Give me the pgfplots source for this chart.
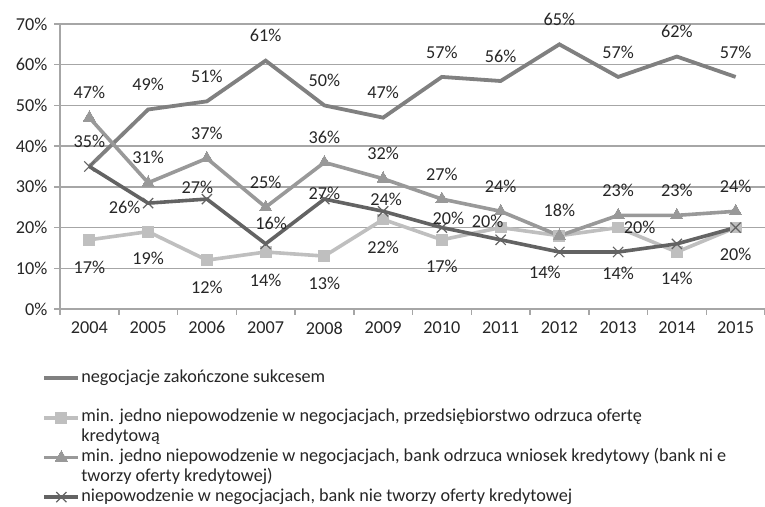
\documentclass[border=0pt]{standalone}
\usepackage{fontspec}
\setmainfont{Carlito}
\usepackage{pgfplots}
\pgfplotsset{compat=1.18}
\usepackage{pgfplotstable}
\definecolor{cS1}{HTML}{808080}
\definecolor{cS2}{HTML}{BFBFBF}
\definecolor{cS3}{HTML}{999999}
\definecolor{cS4}{HTML}{636363}
\definecolor{gridc}{HTML}{A6A6A6}
\definecolor{txt}{HTML}{262626}

\pgfplotstableread{
x y
0 35
1 49
2 51
3 61
4 50
5 47
6 57
7 56
8 65
9 57
10 62
11 57
}\sOne
\pgfplotstableread{
x y
0 17
1 19
2 12
3 14
4 13
5 22
6 17
7 20
8 18
9 20
10 14
11 20
}\sTwo
\pgfplotstableread{
x y
0 47
1 31
2 37
3 25
4 36
5 32
6 27
7 24
8 18
9 23
10 23
11 24
}\sThree
\pgfplotstableread{
x y
0 35
1 26
2 27
3 16
4 27
5 24
6 20
7 17
8 14
9 14
10 16
11 20
}\sFour
% label tables: x y dx dy (pt)
\pgfplotstableread{
x y dx dy
0 35 0 12.5
1 49 0 12.5
2 51 0 12.5
3 61 0 12.5
4 50 0 12.5
5 47 0 12.5
6 57 0 12.5
7 56 0 12.5
8 65 0 12.5
9 57 0 12.5
10 62 0 12.5
11 57 0 12.5
}\lOne
\pgfplotstableread{
x y dx dy
0 17 0 -14
1 19 0 -13.5
2 12 0 -13.5
3 14 0 -14
4 13 0 -13.5
5 22 0 -14
6 17 0 -13.5
7 20 -6.5 3.3
9 20 10.75 0
10 14 0 -13
11 20 0 -13.5
}\lTwo
\pgfplotstableread{
x y dx dy
0 47 0 12.5
1 31 0 12.5
2 37 0 12.5
3 25 0 12.5
4 36 0 12.5
5 32 0 12.5
6 27 0 12.5
7 24 0 12.5
8 18 0 12.5
9 23 0 12.5
10 23 0 12.5
11 24 0 12.5
}\lThree
\pgfplotstableread{
x y dx dy
1 26 -11.75 -2
2 27 -4.75 6
3 16 2.75 10
4 27 0 3
5 24 1.5 6
6 20 3.25 4.8
8 14 -7.25 -10
9 14 0 -10.5
}\lFour

\pgfplotsset{
  lbl/.style={draw=none, mark=none, forget plot,
    visualization depends on={\thisrow{dx}\as\dx},
    visualization depends on={\thisrow{dy}\as\dy},
    nodes near coords={\pgfmathprintnumber{\pgfplotspointmeta}\%},
    every node near coord/.style={anchor=center, text=txt, inner sep=0pt,
      xshift=\dx pt, yshift=\dy pt, font=\fontsize{9.1}{11}\selectfont}},
  s1/.style={color=cS1, line width=1.9pt, mark=none},
  s2/.style={color=cS2, line width=1.8pt, mark=square*, mark size=2.7pt, mark options={solid, fill=cS2, draw=cS2, line width=0pt}},
  s3/.style={color=cS3, line width=1.8pt, mark=triangle*, mark size=3.5pt, mark options={solid, fill=cS3, draw=cS3, line width=0pt}},
  s4/.style={color=cS4, line width=1.8pt, mark=x, mark size=3.6pt, mark options={solid, draw=cS4, line width=0.6pt}},
}

\begin{document}
\begin{tikzpicture}[font=\fontsize{9.1}{11}\selectfont]
\begin{axis}[
  scale only axis, width=352.5pt, height=142.5pt,
  xmin=-0.5, xmax=11.5, ymin=0, ymax=70,
  axis x line*=bottom, axis y line*=left,
  axis line style={draw=gridc, line width=0.75pt, -},
  xtick={0,...,11},
  xticklabels={2004,2005,2006,2007,2008,2009,2010,2011,2012,2013,2014,2015},
  major x tick style={draw=none},
  minor xtick={-0.5,0.5,...,11.5},
  ytick={0,10,...,70},
  yticklabel={\pgfmathprintnumber{\tick}\%},
  ymajorgrids, grid style={draw=gridc, line width=0.75pt},
  tick align=outside, major tick length=2.8pt, minor tick length=2.8pt,
  tick style={draw=gridc, line width=0.75pt},
  tick label style={text=txt},
  /pgf/number format/assume math mode=true,
  clip=false,
  legend style={at={(0,0)}, anchor=north west, xshift=-9pt, yshift=-29.5pt,
    draw=none, fill=none, inner sep=0pt, row sep=0pt, column sep=0pt,
    font=\fontsize{9.1}{11}\selectfont, text=txt,
    nodes={inner sep=0.5pt, text height=6.5pt, text depth=2.4pt},
    cells={anchor=west}},
  legend cell align=left,
]
\addplot[s1, forget plot] table {\sOne};
\addplot[s2, forget plot] table {\sTwo};
\addplot[s3, forget plot] table {\sThree};
\addplot[s4, forget plot] table {\sFour};
\addplot[lbl] table {\lOne};
\addplot[lbl] table {\lTwo};
\addplot[lbl] table {\lThree};
\addplot[lbl] table {\lFour};

\addlegendimage{s1}
\addlegendentry{negocjacje zakończone sukcesem}
\addlegendimage{empty legend}
\addlegendentry{}
\addlegendimage{s2}
\addlegendentry{min. jedno niepowodzenie w negocjacjach, przedsiębiorstwo odrzuca ofertę}
\addlegendimage{empty legend}
\addlegendentry{kredytową}
\addlegendimage{s3}
\addlegendentry{min. jedno niepowodzenie w negocjacjach, bank odrzuca wniosek kredytowy (bank ni e}
\addlegendimage{empty legend}
\addlegendentry{tworzy oferty kredytowej)}
\addlegendimage{s4}
\addlegendentry{niepowodzenie w negocjacjach, bank nie tworzy oferty kredytowej}
\end{axis}
\pgfresetboundingbox
\path (current axis.south west) ++(-30pt,-99pt) rectangle ++(382.5pt,253.5pt);
\end{tikzpicture}
\end{document}
